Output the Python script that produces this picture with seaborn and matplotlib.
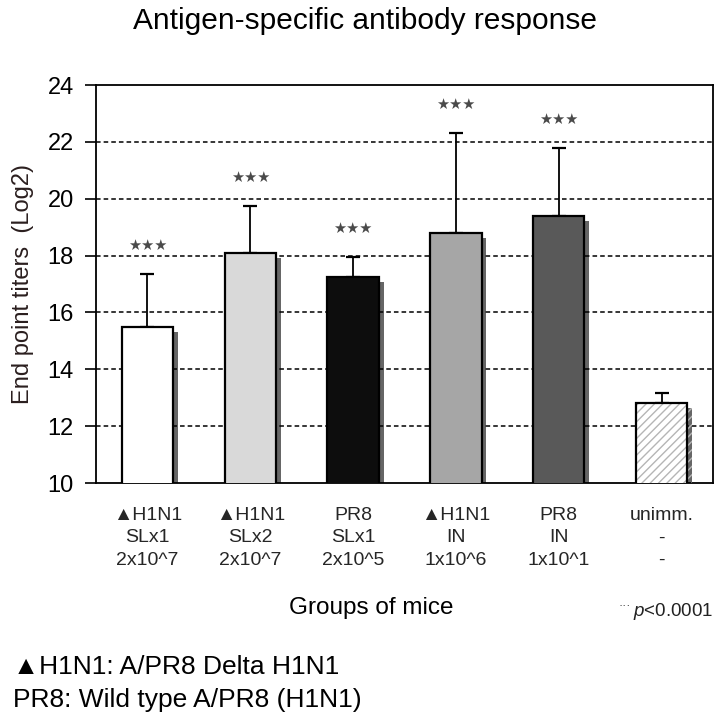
import matplotlib
matplotlib.use("Agg")
import matplotlib.pyplot as plt
import matplotlib.patheffects as pe
from matplotlib.patches import Rectangle
import seaborn as sns
import pandas as pd
import numpy as np

# ---- data ----
groups = ["\u25B2H1N1\nSLx1\n2x10^7", "\u25B2H1N1\nSLx2\n2x10^7", "PR8\nSLx1\n2x10^5",
          "\u25B2H1N1\nIN\n1x10^6", "PR8\nIN\n1x10^1", "unimm.\n-\n-"]
means = [15.5, 18.1, 17.25, 18.8, 19.4, 12.8]
err_up = [1.85, 1.65, 0.7, 3.5, 2.4, 0.37]
signif = ["***", "***", "***", "***", "***", ""]
colors = ["#ffffff", "#d9d9d9", "#0d0d0d", "#a6a6a6", "#595959", "#ffffff"]
yticks = [10, 12, 14, 16, 18, 20, 22, 24]

sns.set_theme(style="white")
plt.rcParams['font.family'] = ['Liberation Sans', 'DejaVu Sans']
plt.rcParams['mathtext.fontset'] = 'custom'
plt.rcParams['mathtext.it'] = 'Liberation Sans:italic'
plt.rcParams['mathtext.rm'] = 'Liberation Sans'

df = pd.DataFrame({"group": groups, "mean": means})

fig = plt.figure(figsize=(7.2, 7.22), dpi=100)
ax = fig.add_axes([96/720, 1-483/722, (713-96)/720, (483-85)/722])

sns.barplot(data=df, x="group", y="mean", hue="group", palette=colors,
            legend=False, width=0.5, edgecolor="black", linewidth=1.6,
            ax=ax, zorder=3)

shadow = [pe.SimplePatchShadow(offset=(3.5, -3.5), shadow_rgbFace="black", alpha=0.6),
          pe.Normal()]
for p in ax.patches:
    p.set_path_effects(shadow)

# hatched last bar
last = ax.patches[-1]
last.set_hatch("////")
last.set_edgecolor("#b5b5b5")
last.set_linewidth(0)
outline = Rectangle(last.get_xy(), last.get_width(), last.get_height(),
                    fill=False, edgecolor="black", linewidth=1.6, zorder=4)
ax.add_patch(outline)

xs = np.arange(len(groups))
ax.errorbar(xs, means, yerr=[np.zeros(len(means)), err_up], fmt="none",
            ecolor="black", elinewidth=1.3, capsize=5, capthick=1.6, zorder=2)

for x, m, e, s in zip(xs, means, err_up, signif):
    if s:
        ax.text(x, m + e + 1.0, "\u2605\u2605\u2605", ha="center", va="center",
                fontsize=10.5, color="#4a4a4a", family=["DejaVu Sans"])

ax.set_ylim(10, 24)
ax.set_xlim(-0.5, len(groups) - 0.5)
ax.set_yticks(yticks)
ax.set_yticklabels([str(t) for t in yticks], fontsize=17)
for t in yticks[1:-1]:
    ax.axhline(t, color="black", linestyle=(0, (3, 2)), linewidth=1.1, zorder=1)

ax.tick_params(axis="y", direction="out", length=8, width=1.2, left=True, pad=8, colors="black")
ax.tick_params(axis="x", length=0, pad=17)
ax.set_xticks(xs)
ax.set_xticklabels(groups, fontsize=14, linespacing=1.45)
for sp in ax.spines.values():
    sp.set_color("black")
    sp.set_linewidth(1.3)
    sp.set_visible(True)

ax.set_xlabel("")
ax.set_ylabel("End point titers  (Log2)", fontsize=17, color="#2a1e1e", labelpad=10)

fig.text(0.507, 1-21/722, "Antigen-specific antibody response", ha="center", va="center",
         fontsize=21.5, color="black")
fig.text(0.515, 1-608/722, "Groups of mice", ha="center", va="center", fontsize=17.5,
         color="black")
fig.text(0.867, 1-606/722, "\u00B7\u00B7\u00B7", ha="center", va="center", fontsize=9, color="#333333")
fig.text(0.99, 1-611/722, r"$\it{p}$<0.0001", ha="right", va="center", fontsize=13.5,
         color="#222222")
fig.text(0.018, 1-667/722, "\u25B2H1N1: A/PR8 Delta H1N1", ha="left", va="center",
         fontsize=19, color="black")
fig.text(0.018, 1-700/722, "PR8: Wild type A/PR8 (H1N1)", ha="left", va="center",
         fontsize=19, color="black")

fig.savefig("out.png", dpi=100)
